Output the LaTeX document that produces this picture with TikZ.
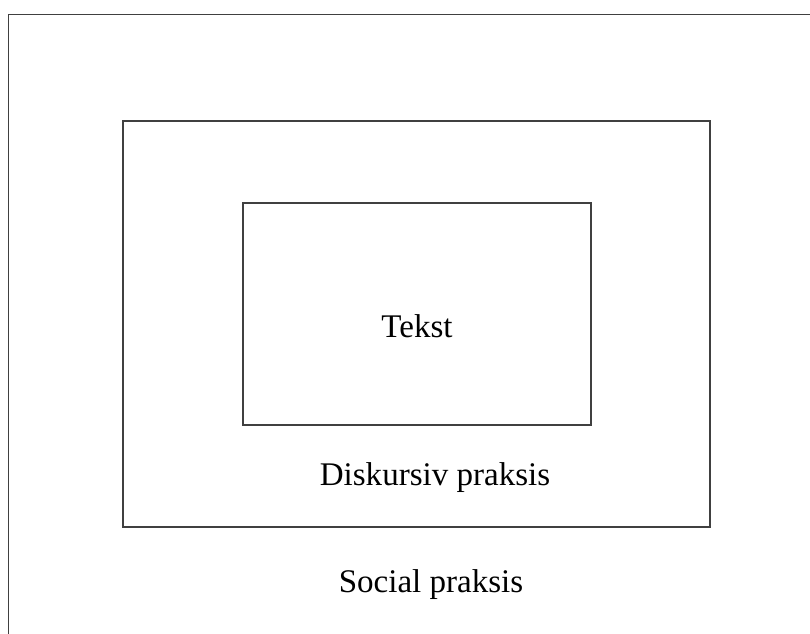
\documentclass[tikz,border=0pt]{standalone}
\usepackage{fontspec}
\setmainfont{Liberation Serif}
\usepackage{tikz}

\tikzset{
	ramme/.style={draw=black!75, line width=1.1pt},
	etikett/.style={font=\fontsize{18.8}{22}\selectfont, inner sep=0pt, anchor=base}
}

\begin{document}
\begin{tikzpicture}[x=0.02cm, y=-0.02cm]
		\useasboundingbox (0,0) rectangle (810,633);
		\clip (0,0) rectangle (810,633);
		\draw[ramme] (8.5,14.5) rectangle (840,660);
		\draw[ramme] (123,121) rectangle (710,527);
		\draw[ramme] (243,203) rectangle (591,425);

		\node[etikett] (tekst) at (417,337) {Tekst};
		\node[etikett] (diskursiv) at (435,485) {Diskursiv praksis};
		\node[etikett] (social) at (431,592) {Social praksis};
	\end{tikzpicture}
\end{document}
